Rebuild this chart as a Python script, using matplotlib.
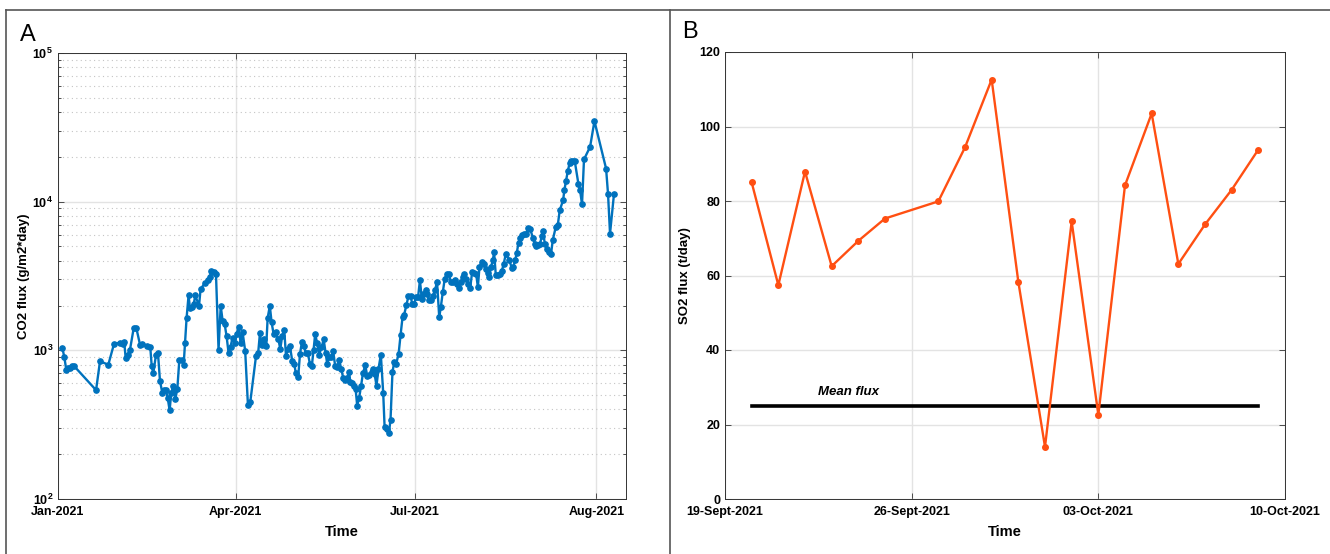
import numpy as np
import pandas as pd
import matplotlib
matplotlib.use("Agg")
import matplotlib.pyplot as plt
import matplotlib.dates as mdates
from matplotlib.ticker import FixedLocator, FuncFormatter, LogLocator, NullFormatter

plt.rcParams['font.family'] = ['Liberation Sans', 'DejaVu Sans']
plt.rcParams['mathtext.fontset'] = 'custom'
plt.rcParams['mathtext.rm'] = 'Liberation Sans'
plt.rcParams['mathtext.bf'] = 'Liberation Sans:bold'

# --- Panel A: CO2 flux (days after 1 Jan 2021) ---
co2_day = [2.2, 3.2, 4.2, 5.2, 6.2, 7.3, 8.3, 19.3, 21.3, 25.5, 28.4, 31.4, 32.8, 33.6, 34.3, 35.3, 36.5,
           38.4, 39.7, 41.6, 42.7, 45.0, 46.8, 47.5, 48.3,
           49.7, 50.7, 51.7, 52.9, 53.7, 54.7, 55.6, 56.6, 57.4, 58.5, 59.5, 60.5, 61.5, 62.7, 63.7, 64.4,
           65.2, 66.2, 66.9, 67.9, 68.8, 69.6, 71.5, 72.3, 74.5, 75.9, 77.0, 77.7, 79.1, 80.1, 81.4, 82.5,
           83.5, 84.5, 85.5, 86.5, 87.5, 88.5, 89.7, 90.6, 91.6, 92.6, 93.6, 94.9, 96.3, 97.5,
           100.4, 101.5, 102.4, 103.2, 104.2, 105.0, 105.6, 106.3, 107.4, 108.3, 109.3, 110.5, 111.7, 112.7,
           113.7, 114.7, 115.6, 116.6, 117.6, 118.8, 119.8, 120.6, 121.8, 122.7, 123.7, 124.7, 125.7, 126.7,
           127.7, 128.7, 129.6, 130.4, 131.4, 132.4, 133.6, 134.7, 135.7, 136.5, 137.5, 138.5, 139.5, 140.5,
           141.6, 142.6, 143.6, 144.6,
           145.5, 146.6, 147.6, 148.2, 149.2, 150.0, 150.9, 151.7, 152.7, 153.7, 154.6, 155.8, 156.8, 157.8,
           159.0, 159.8, 160.5, 161.5, 162.5, 163.7, 164.9, 165.6, 166.6, 167.8, 168.6, 169.6, 170.5, 171.5,
           172.7, 173.7, 174.7, 175.5, 176.7, 177.7, 178.8, 179.6, 180.6, 181.6, 182.6, 183.5, 184.5, 185.3,
           186.4, 187.2, 188.0, 189.0, 190.1, 191.1, 192.2,
           193.3, 194.1, 195.1, 196.1, 197.2, 198.2, 199.2, 200.2, 201.2, 202.2, 203.2, 204.3, 205.1, 206.1,
           207.1, 208.0, 209.0, 210.0, 211.0, 212.0, 212.9, 213.7, 214.8, 215.8, 216.8, 217.8, 218.6, 219.5,
           220.5, 221.1, 222.0, 223.0, 224.0, 225.0, 226.0, 227.1, 228.9, 230.0, 230.8, 231.8, 232.6, 233.5,
           234.3, 235.2, 236.3, 237.3, 238.4, 239.4,
           240.9, 241.8, 242.6, 243.6, 244.4, 245.3, 246.0, 246.8, 247.8, 249.0, 250.0, 250.9, 252.4, 253.4,
           254.4, 256.1, 256.8, 257.6, 258.5, 259.4, 260.2, 261.2, 262.0, 263.9, 264.7, 265.7, 266.7, 269.8,
           272.0, 277.9, 278.9, 279.9, 281.9]
co2_flux = [1040, 900, 740, 760, 760, 785, 780, 540, 845, 800, 1105, 1125, 1105, 1130, 890, 935, 1010,
            1415, 1415, 1090, 1110, 1075, 1045, 790, 700,
            935, 955, 625, 515, 540, 540, 480, 395, 515, 580, 470, 550, 855, 855, 795, 1115,
            1650, 2340, 1930, 1970, 2040, 2340, 1990, 2590, 2830, 2950, 3110, 3410, 3360, 3270, 1010, 1990,
            1570, 1500, 1240, 955, 1060, 1215, 1115, 1290, 1445, 1115, 1320, 995, 430, 450,
            915, 960, 1310, 1090, 1195, 1090, 1070, 1650, 1990, 1545, 1290, 1320, 1195, 1020,
            1255, 1375, 920, 1020, 1065, 845, 810, 700, 665, 945, 1145, 1070, 955, 955,
            815, 785, 1010, 1290, 1115, 935, 1045, 1185, 955, 810, 895, 905, 995, 790,
            775, 860, 750, 655,
            630, 650, 720, 610, 605, 580, 550, 425, 480, 580, 700, 795, 670, 685,
            720, 750, 695, 580, 750, 935, 515, 305, 295, 280, 340, 720, 830, 815,
            945, 1270, 1670, 1735, 2030, 2310, 2310, 2055, 2055, 2300, 2300, 2950, 2225, 2375,
            2555, 2400, 2190, 2190, 2325, 2530, 2880,
            1670, 1950, 2460, 3030, 3270, 3270, 2880, 2880, 2950, 2805, 2620, 2880, 3110, 3240,
            3000, 2805, 2620, 3380, 3310, 3270, 2665, 3630, 3920, 3785, 3540, 3305, 3110, 3630,
            4030, 4580, 3190, 3190, 3270, 3395, 3825, 4470, 4030, 3600, 3630, 4030, 4510, 5300,
            5730, 6000, 6095, 6050, 6650, 6520,
            5690, 5210, 5000, 5080, 5210, 5850, 6340, 5210, 4830, 4580, 4470, 5545, 6760, 6935,
            8750, 10210, 12060, 13790, 16110, 18070, 18810, 18810, 18810, 13090, 11940, 9600, 19230, 23390,
            34830, 16700, 11220, 6100, 11220]
co2_ticks = ['2021-01-01', '2021-04-01', '2021-07-01', '2021-10-01']
co2_ticklabels = ['Jan-2021', 'Apr-2021', 'Jul-2021', 'Aug-2021']

# --- Panel B: SO2 flux ---
so2_dates = ['2021-09-20', '2021-09-21', '2021-09-22', '2021-09-23', '2021-09-24', '2021-09-25',
             '2021-09-27', '2021-09-28', '2021-09-29', '2021-09-30', '2021-10-01', '2021-10-02',
             '2021-10-03', '2021-10-04', '2021-10-05', '2021-10-06', '2021-10-07', '2021-10-08',
             '2021-10-09']
so2_flux = [85.0, 57.4, 87.9, 62.5, 69.3, 75.3, 79.9, 94.4, 112.6, 58.3, 14.0, 74.5, 22.6, 84.2,
            103.5, 63.1, 73.7, 83.0, 93.8]
mean_flux = 25.0
so2_ticks = ['2021-09-19', '2021-09-26', '2021-10-03', '2021-10-10']
so2_ticklabels = ['19-Sept-2021', '26-Sept-2021', '03-Oct-2021', '10-Oct-2021']

blue = '#0072BD'
orange = '#FF4F12'
grid_c = '#e3e3e3'

fig = plt.figure(figsize=(13.3, 5.54), dpi=100)

# frames around the panels
fig.add_artist(plt.Line2D([6/1330, 6/1330], [0, 1 - 10/554], color='#555555', lw=1.2))
fig.add_artist(plt.Line2D([6/1330, 1], [1 - 10/554, 1 - 10/554], color='#555555', lw=1.2))
fig.add_artist(plt.Line2D([670/1330, 670/1330], [0, 1 - 10/554], color='#555555', lw=1.2))

# Panel A
axA = fig.add_axes([58/1330, 55/554, 568/1330, 446/554])
t0 = pd.Timestamp('2021-01-01')
xA = t0 + pd.to_timedelta(np.array(co2_day), unit='D')
axA.plot(xA, co2_flux, '-o', color=blue, lw=1.7, ms=3.8, zorder=3)
axA.set_yscale('log')
axA.set_ylim(1e2, 1e5)
axA.set_xlim(t0, t0 + pd.Timedelta(days=288))
axA.xaxis.set_major_locator(FixedLocator(mdates.date2num(pd.to_datetime(co2_ticks))))
axA.set_xticklabels(co2_ticklabels)
axA.yaxis.set_major_locator(LogLocator(base=10, numticks=10))
axA.yaxis.set_minor_locator(LogLocator(base=10, subs=np.arange(2, 10), numticks=20))
axA.yaxis.set_minor_formatter(NullFormatter())
axA.yaxis.set_major_formatter(FuncFormatter(lambda v, p: r'$\mathbf{10^{%d}}$' % round(np.log10(v))))
axA.grid(True, which='major', color=grid_c, lw=1.0)
axA.grid(True, which='minor', axis='y', color='#c4c4c4', lw=0.8, ls=(0, (1, 3)))
axA.set_axisbelow(True)
axA.set_ylabel('CO2 flux (g/m2*day)', fontsize=9.5, fontweight='bold', labelpad=2)
axA.set_xlabel('Time', fontsize=10.5, fontweight='bold', labelpad=5)
fig.text(20/1330, 1 - 35/554, 'A', fontsize=17, va='center', ha='left')

# Panel B
axB = fig.add_axes([725/1330, 55/554, 560/1330, 447/554])
xB = pd.to_datetime(so2_dates)
axB.plot(xB, so2_flux, '-o', color=orange, lw=1.7, ms=4, zorder=3)
axB.plot([xB[0], xB[-1]], [mean_flux, mean_flux], color='black', lw=2.6, zorder=2)
axB.text(pd.Timestamp('2021-09-22 12:00'), 28.7, 'Mean flux', fontsize=9.5, fontweight='bold',
         fontstyle='italic', va='center', ha='left')
axB.set_ylim(0, 120)
axB.set_yticks(np.arange(0, 121, 20))
axB.set_xlim(pd.Timestamp('2021-09-19'), pd.Timestamp('2021-10-10'))
axB.xaxis.set_major_locator(FixedLocator(mdates.date2num(pd.to_datetime(so2_ticks))))
axB.set_xticklabels(so2_ticklabels)
axB.grid(True, which='major', color=grid_c, lw=1.0)
axB.set_axisbelow(True)
axB.set_ylabel('SO2 flux (t/day)', fontsize=9.5, fontweight='bold', labelpad=6)
axB.set_xlabel('Time', fontsize=10.5, fontweight='bold', labelpad=5)
fig.text(682/1330, 1 - 32/554, 'B', fontsize=17, va='center', ha='left')

for ax in (axA, axB):
    ax.tick_params(which='both', direction='in', top=True, right=True, labelsize=9,
                   color='#333333', width=0.6)
    ax.tick_params(which='major', length=4)
    ax.tick_params(which='minor', length=2)
    ax.tick_params(axis='x', pad=5)
    for lab in ax.get_xticklabels() + ax.get_yticklabels():
        lab.set_fontweight('bold')
    for s in ax.spines.values():
        s.set_color('#333333')
        s.set_linewidth(0.7)

fig.savefig('out.png', dpi=100)
